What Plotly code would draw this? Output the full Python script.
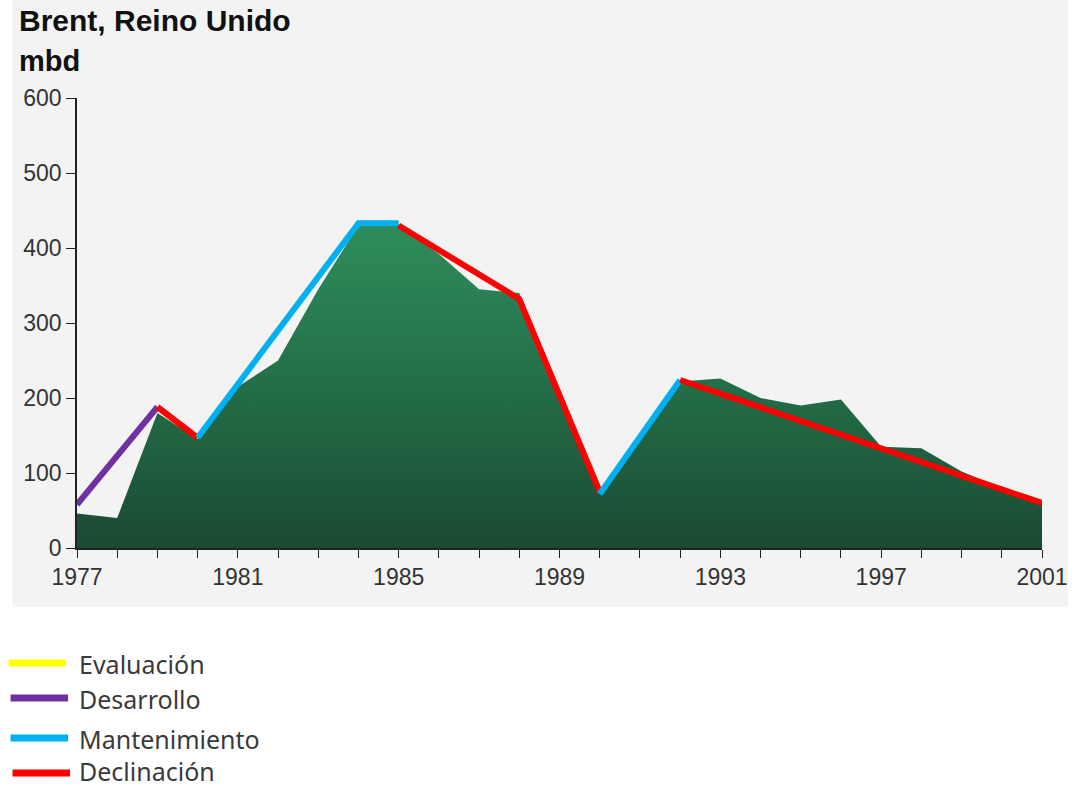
import plotly.graph_objects as go

# ---- data ----
years = list(range(1977, 2002))
production = [46, 40, 180, 145, 215, 250, 345, 430, 432, 392, 345, 340, 205, 75, 150, 222,
              226, 200, 190, 198, 135, 133, 102, 80, 60]

dev_years = [1977, 1979]
dev_values = [58, 188]

decl1_years = [1979, 1980]
decl1_values = [188, 147]

maint1_years = [1980, 1984, 1985]
maint1_values = [147, 433, 433]

decl2_years = [1985, 1988, 1990]
decl2_values = [430, 332, 75]

maint2_years = [1990, 1992]
maint2_values = [72, 224]

decl3_years = [1992, 2001]
decl3_values = [224, 60]

legend_labels = ["Evaluación", "Desarrollo", "Mantenimiento", "Declinación"]
legend_colors = ["#ffff00", "#7030a0", "#00b0f0", "#ff0000"]

x_ticks = list(range(1977, 2002))
x_ticktext = [str(y) if (y - 1977) % 4 == 0 else "" for y in x_ticks]

# ---- figure ----
fig = go.Figure()

fig.add_trace(go.Scatter(
    x=years, y=production, mode="lines", fill="tozeroy",
    line=dict(width=0, color="#1f5c3c"),
    fillgradient=dict(type="vertical",
                      colorscale=[[0, "#1b4a32"], [0.5, "#236e48"], [1, "#2e8d5c"]]),
    showlegend=False, hoverinfo="skip"))

def seg(xs, ys, color):
    fig.add_trace(go.Scatter(x=xs, y=ys, mode="lines",
                             line=dict(color=color, width=6),
                             showlegend=False, hoverinfo="skip"))

seg(dev_years, dev_values, "#7030a0")
seg(decl1_years, decl1_values, "#ff0000")
seg(maint1_years, maint1_values, "#00b0f0")
seg(decl2_years, decl2_values, "#ff0000")
seg(maint2_years, maint2_values, "#00b0f0")
seg(decl3_years, decl3_values, "#ff0000")

L, R, T, B = 77, 30, 98, 240
W, H = 1080, 788
pw, ph = W - L - R, H - T - B

def px(xp):
    return (xp - L) / pw

def py(yp):
    return (H - B - yp) / ph

shapes = [dict(type="rect", xref="paper", yref="paper",
               x0=px(12), x1=px(1076), y0=py(607), y1=py(0),
               fillcolor="#f3f3f3", line=dict(width=0), layer="below")]

annotations = [
    dict(text="<b>Brent, Reino Unido</b>", xref="paper", yref="paper",
         x=px(16), y=py(21), xanchor="left", yanchor="middle", showarrow=False,
         font=dict(family="Liberation Sans, Arial", size=30, color="#111111")),
    dict(text="<b>mbd</b>", xref="paper", yref="paper",
         x=px(17), y=py(61), xanchor="left", yanchor="middle", showarrow=False,
         font=dict(family="Liberation Sans, Arial", size=29, color="#111111")),
]

leg_line_y = [663, 698, 738, 773]
leg_text_y = [664, 699, 739, 771]
leg_x0 = [8, 10, 10, 12]
for i, (lab, col) in enumerate(zip(legend_labels, legend_colors)):
    shapes.append(dict(type="line", xref="paper", yref="paper",
                       x0=px(leg_x0[i]), x1=px(leg_x0[i] + 58),
                       y0=py(leg_line_y[i]), y1=py(leg_line_y[i]),
                       line=dict(color=col, width=7)))
    annotations.append(dict(text=lab, xref="paper", yref="paper",
                            x=px(77), y=py(leg_text_y[i]), xanchor="left", yanchor="middle",
                            showarrow=False,
                            font=dict(family="Noto Sans", size=25, color="#3a3a3a")))

fig.update_layout(
    width=W, height=H,
    margin=dict(l=L, r=R, t=T, b=B),
    paper_bgcolor="white", plot_bgcolor="rgba(0,0,0,0)",
    shapes=shapes, annotations=annotations, showlegend=False,
    xaxis=dict(range=[1977, 2001], tickmode="array", tickvals=x_ticks, ticktext=x_ticktext,
               ticks="outside", ticklen=8, tickcolor="#222", tickwidth=1.3,
               showline=True, linecolor="#222", linewidth=1.5, showgrid=False, zeroline=False,
               tickfont=dict(family="Liberation Sans, Arial", size=23, color="#333333")),
    yaxis=dict(range=[0, 600], dtick=100, tick0=0,
               ticks="outside", ticklen=9, tickcolor="#222", tickwidth=1.3,
               showline=True, linecolor="#222", linewidth=1.5, showgrid=False, zeroline=False,
               tickfont=dict(family="Liberation Sans, Arial", size=23, color="#333333")),
)

fig.write_html("out.html")
